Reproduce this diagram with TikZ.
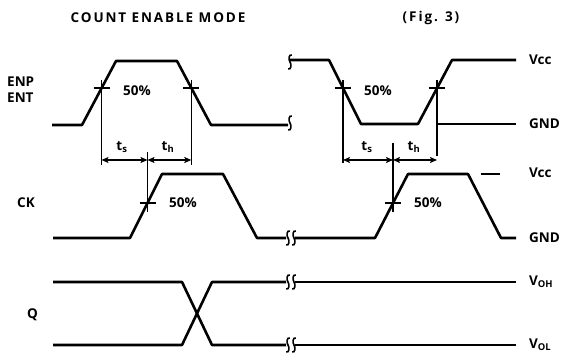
\documentclass[tikz,border=0pt]{standalone}
\usepackage{fontspec}
\newfontfamily\labelfont{Open Sans}
\usetikzlibrary{arrows.meta}
\begin{document}
\begin{tikzpicture}[x=1pt,y=-1pt]
	\tikzstyle{every node}=[inner sep=0pt, font=\labelfont\bfseries\fontsize{13.5}{16}\selectfont]
	\tikzstyle{wave}=[line width=2.6pt, line join=round]
	\tikzstyle{thin line}=[line width=1.4pt]
	\tikzstyle{dim}=[line width=1.4pt, {Stealth[length=7pt,width=6pt,inset=1.5pt]}-{Stealth[length=7pt,width=6pt,inset=1.5pt]}]
	\tikzset{brk/.pic={\draw[line width=1.6pt] (1.8,-7) .. controls (-1.5,-8) and (-1.5,-2) .. (0,0) .. controls (1.5,2) and (1.5,8) .. (-1.8,7);}}
	\useasboundingbox (0,0) rectangle (566,355);

	\node (title) at (158,18) {\addfontfeature{LetterSpace=14}COUNT ENABLE MODE};
	\node (fig) at (431,18) {\addfontfeature{LetterSpace=14}(Fig. 3)};

	\node[anchor=west] (enp) at (7,82) {ENP};
	\node[anchor=west] (ent) at (7,98) {ENT};
	\node[anchor=west] (ck) at (17,203) {CK};
	\node[anchor=west] (q) at (27,315) {Q};

	\node[anchor=west] (vcc1) at (529,60) {Vcc};
	\node[anchor=west] (gnd1) at (529,124) {GND};
	\node[anchor=west] (vcc2) at (529,173) {Vcc};
	\node[anchor=west] (gnd2) at (529,238) {GND};
	\node[anchor=west] (voh) at (529,282) {V\textsubscript{OH}};
	\node[anchor=west] (vol) at (529,345) {V\textsubscript{OL}};

	% waveforms
	\draw[wave] (52,125) -- (82,125) -- (116,61) -- (177,61) -- (211,125) -- (288,125);
	\draw[wave] (290,60) -- (329,60) -- (361,124) -- (418,124) -- (452,60) -- (516,60);
	\draw[wave] (53,238) -- (130,238) -- (162,174) -- (223,174) -- (257,238) -- (286,238);
	\draw[wave] (295,238) -- (375,238) -- (408,174) -- (468,174) -- (501,238) -- (516,238);
	\draw[wave] (53,282) -- (182,282) -- (212,345) -- (286,345);
	\draw[wave] (53,345) -- (182,345) -- (212,282) -- (286,282);
	\draw[wave] (295,282) -- (516,282);
	\draw[wave] (295,345) -- (516,345);
	\pic at (290,123) {brk};
	\pic at (290,62) {brk};
	\foreach \y in {238,282,345} {
		\pic at (288,\y) {brk};
		\pic at (294,\y) {brk};
	}

	% level lines
	\draw[thin line] (437,124) -- (516,124);
	\draw[thin line] (481,174) -- (500,174);

	% 50% points
	\coordinate (e1) at (101.5,88);
	\coordinate (e2) at (191.3,88);
	\coordinate (e3) at (343,88);
	\coordinate (e4) at (437,88);
	\coordinate (c1) at (147.5,203);
	\coordinate (c2) at (393,203);
	\foreach \p in {e1,e2,e3,e4,c1,c2}
		\draw[thin line] (\p) ++(-8,0) -- ++(16,0);
	\draw[thin line] (e1) ++(0,-8) -- ++(0,85);
	\draw[thin line] (e2) ++(0,-8) -- ++(0,85);
	\draw[thin line] (e3) ++(0,-8) -- ++(0,83);
	\draw[thin line] (e4) ++(0,-8) -- ++(0,76);
	\draw[thin line] (c1) ++(0,-51) -- ++(0,60);
	\draw[thin line] (c2) ++(0,-60) -- ++(0,69);

	\node (p1) at (137,91) {50\%};
	\node (p2) at (378,91) {50\%};
	\node (p3) at (183,203) {50\%};
	\node (p4) at (428,203) {50\%};

	% setup / hold
	\coordinate (a1) at (101.5,160);
	\coordinate (a2) at (147.5,160);
	\coordinate (a3) at (191.3,160);
	\coordinate (a4) at (343,160);
	\coordinate (a5) at (393,160);
	\coordinate (a6) at (437,160);
	\draw[dim] (a1) -- (a2);
	\draw[dim] (a2) -- (a3);
	\draw[dim] (a4) -- (a5);
	\draw[dim] (a5) -- (a6);
	\node (ts1) at (122,147) {t\textsubscript{s}};
	\node (th1) at (168,147) {t\textsubscript{h}};
	\node (ts2) at (367,147) {t\textsubscript{s}};
	\node (th2) at (414,147) {t\textsubscript{h}};
\end{tikzpicture}
\end{document}
